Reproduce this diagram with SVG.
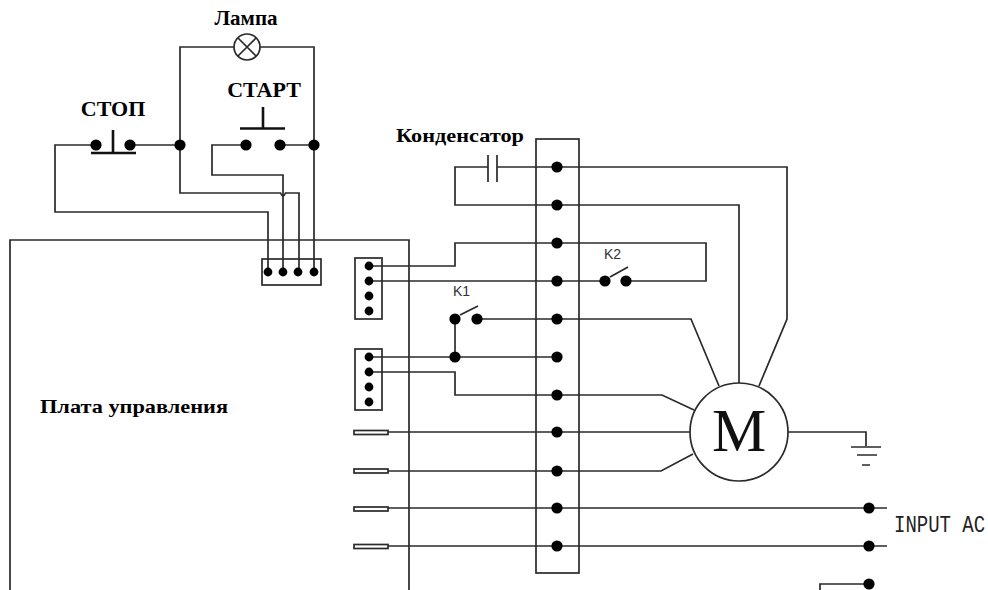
<svg xmlns="http://www.w3.org/2000/svg" width="988" height="590" viewBox="0 0 988 590">
<style>
.w{fill:none;stroke:#2a2a2a;stroke-width:1.7}
.b{fill:none;stroke:#111;stroke-width:2.6}
.d{fill:#000}
.box{fill:#fff;stroke:#2a2a2a;stroke-width:1.7}
.nb{fill:none;stroke:#2a2a2a;stroke-width:1.7}
.l{font-family:"Liberation Serif",serif;font-weight:bold;font-size:21px;fill:#000}
.k{font-family:"Liberation Sans",sans-serif;font-size:14px;fill:#333}
</style>
<defs><circle id="dot" r="5.600" class="d"/><circle id="sd" r="4.400" class="d"/></defs>
<rect width="988" height="590" fill="#fff"/>
<g id="board"><path class="nb" d="M10 590V240H409V590"/><text class="l" x="40" y="413" style="font-size:19px" textLength="188" lengthAdjust="spacingAndGlyphs">Плата управления</text></g>
<g id="terminal-strip"><rect class="nb" x="536" y="139" width="43" height="434"/></g>
<g id="connectors">
<path class="w" d="M234 47H180V193H280.500Q283 199 285.500 193H299V272"/>
<path class="w" d="M260 47H314V272"/>
<path class="w" d="M96 145H55V212H268V272"/>
<path class="w" d="M130 145H180"/>
<path class="w" d="M246 145H212V175H283V272"/>
<path class="w" d="M280 145H314"/>
<path class="w" d="M488 167H455V205H739V383"/>
<path class="w" d="M497 167H787V319L759 386"/>
<path class="w" d="M369 266H455V243H706V281H626"/>
<path class="w" d="M369 281H605"/>
<path class="w" d="M477 319H691L719 386"/>
<path class="w" d="M455 319V357"/>
<path class="w" d="M369 357H557"/>
<path class="w" d="M369 372H455V395H662L694 410"/>
<path class="w" d="M388 432H690"/>
<path class="w" d="M388 471H661L693 454"/>
<path class="w" d="M388 508H887"/>
<path class="w" d="M388 546H887"/>
<path class="w" d="M788 432H866V446"/>
<path class="w" d="M820 590V584H869"/>
</g>
<g id="junctions">
<use href="#dot" x="180" y="145"/><use href="#dot" x="314" y="145"/>
<use href="#dot" x="455" y="357"/>
<use href="#dot" x="557" y="167"/><use href="#dot" x="557" y="205"/><use href="#dot" x="557" y="243"/><use href="#dot" x="557" y="281"/><use href="#dot" x="557" y="319"/><use href="#dot" x="557" y="357"/><use href="#dot" x="557" y="395"/><use href="#dot" x="557" y="432"/><use href="#dot" x="557" y="471"/><use href="#dot" x="557" y="508"/><use href="#dot" x="557" y="546"/>
<use href="#dot" x="869" y="508"/><use href="#dot" x="869" y="546"/><use href="#dot" x="869" y="584"/>
</g>
<g id="lamp"><circle class="box" cx="247" cy="47" r="13"/><path class="w" d="M238 38L256 56M256 38L238 56"/><text class="l" x="246" y="25" text-anchor="middle" style="font-size:21px">Лампа</text></g>
<g id="stop"><use href="#dot" x="96" y="145"/><use href="#dot" x="130" y="145"/><path class="b" d="M91 153H136M113 130V153"/><text class="l" x="113" y="116" text-anchor="middle" style="font-size:22px">СТОП</text></g>
<g id="start"><use href="#dot" x="246" y="145"/><use href="#dot" x="280" y="145"/><path class="b" d="M240 128.500H285M263 107V128"/><text class="l" x="264" y="97" text-anchor="middle" style="font-size:22px">СТАРТ</text></g>
<g id="connector-top"><rect class="nb" x="262" y="259" width="59" height="26"/><use href="#sd" x="268" y="272"/><use href="#sd" x="283" y="272"/><use href="#sd" x="298" y="272"/><use href="#sd" x="314" y="272"/></g>
<g id="connector-1"><rect class="nb" x="355" y="258" width="27" height="61"/><use href="#sd" x="369" y="266"/><use href="#sd" x="369" y="281"/><use href="#sd" x="369" y="296"/><use href="#sd" x="369" y="311"/></g>
<g id="connector-2"><rect class="nb" x="355" y="349" width="27" height="61"/><use href="#sd" x="369" y="357"/><use href="#sd" x="369" y="372"/><use href="#sd" x="369" y="387"/><use href="#sd" x="369" y="402"/></g>
<g id="capacitor"><path class="w" d="M488 155V182M497 155V182"/><text class="l" x="396" y="142" style="font-size:19px" textLength="128" lengthAdjust="spacingAndGlyphs">Конденсатор</text></g>
<g id="k1"><use href="#dot" x="455" y="319"/><use href="#dot" x="477" y="319"/><path class="w" d="M460 315L478 306"/><text class="k" x="453" y="296">K1</text></g>
<g id="k2"><use href="#dot" x="605" y="281"/><use href="#dot" x="626" y="281"/><path class="w" d="M610 277L628 267"/><text class="k" x="604" y="259">K2</text></g>
<g id="t1"><rect class="box" x="354" y="430.500" width="34" height="4"/></g>
<g id="t2"><rect class="box" x="354" y="469" width="34" height="4"/></g>
<g id="t3"><rect class="box" x="354" y="507" width="34" height="4"/></g>
<g id="t4"><rect class="box" x="354" y="544.500" width="34" height="4"/></g>
<g id="motor"><circle class="box" cx="739" cy="432" r="49"/><text x="739" y="451" text-anchor="middle" font-family="Liberation Serif,serif" font-size="61" fill="#111">M</text></g>
<g id="ground"><path class="w" d="M851 447H881M857 455H877M862 465H870"/></g>
<g id="input"><text transform="translate(894 532) scale(1 1.300)" x="0" y="0" font-family="Liberation Mono,monospace" font-size="19" fill="#222">INPUT AC</text></g>
</svg>
